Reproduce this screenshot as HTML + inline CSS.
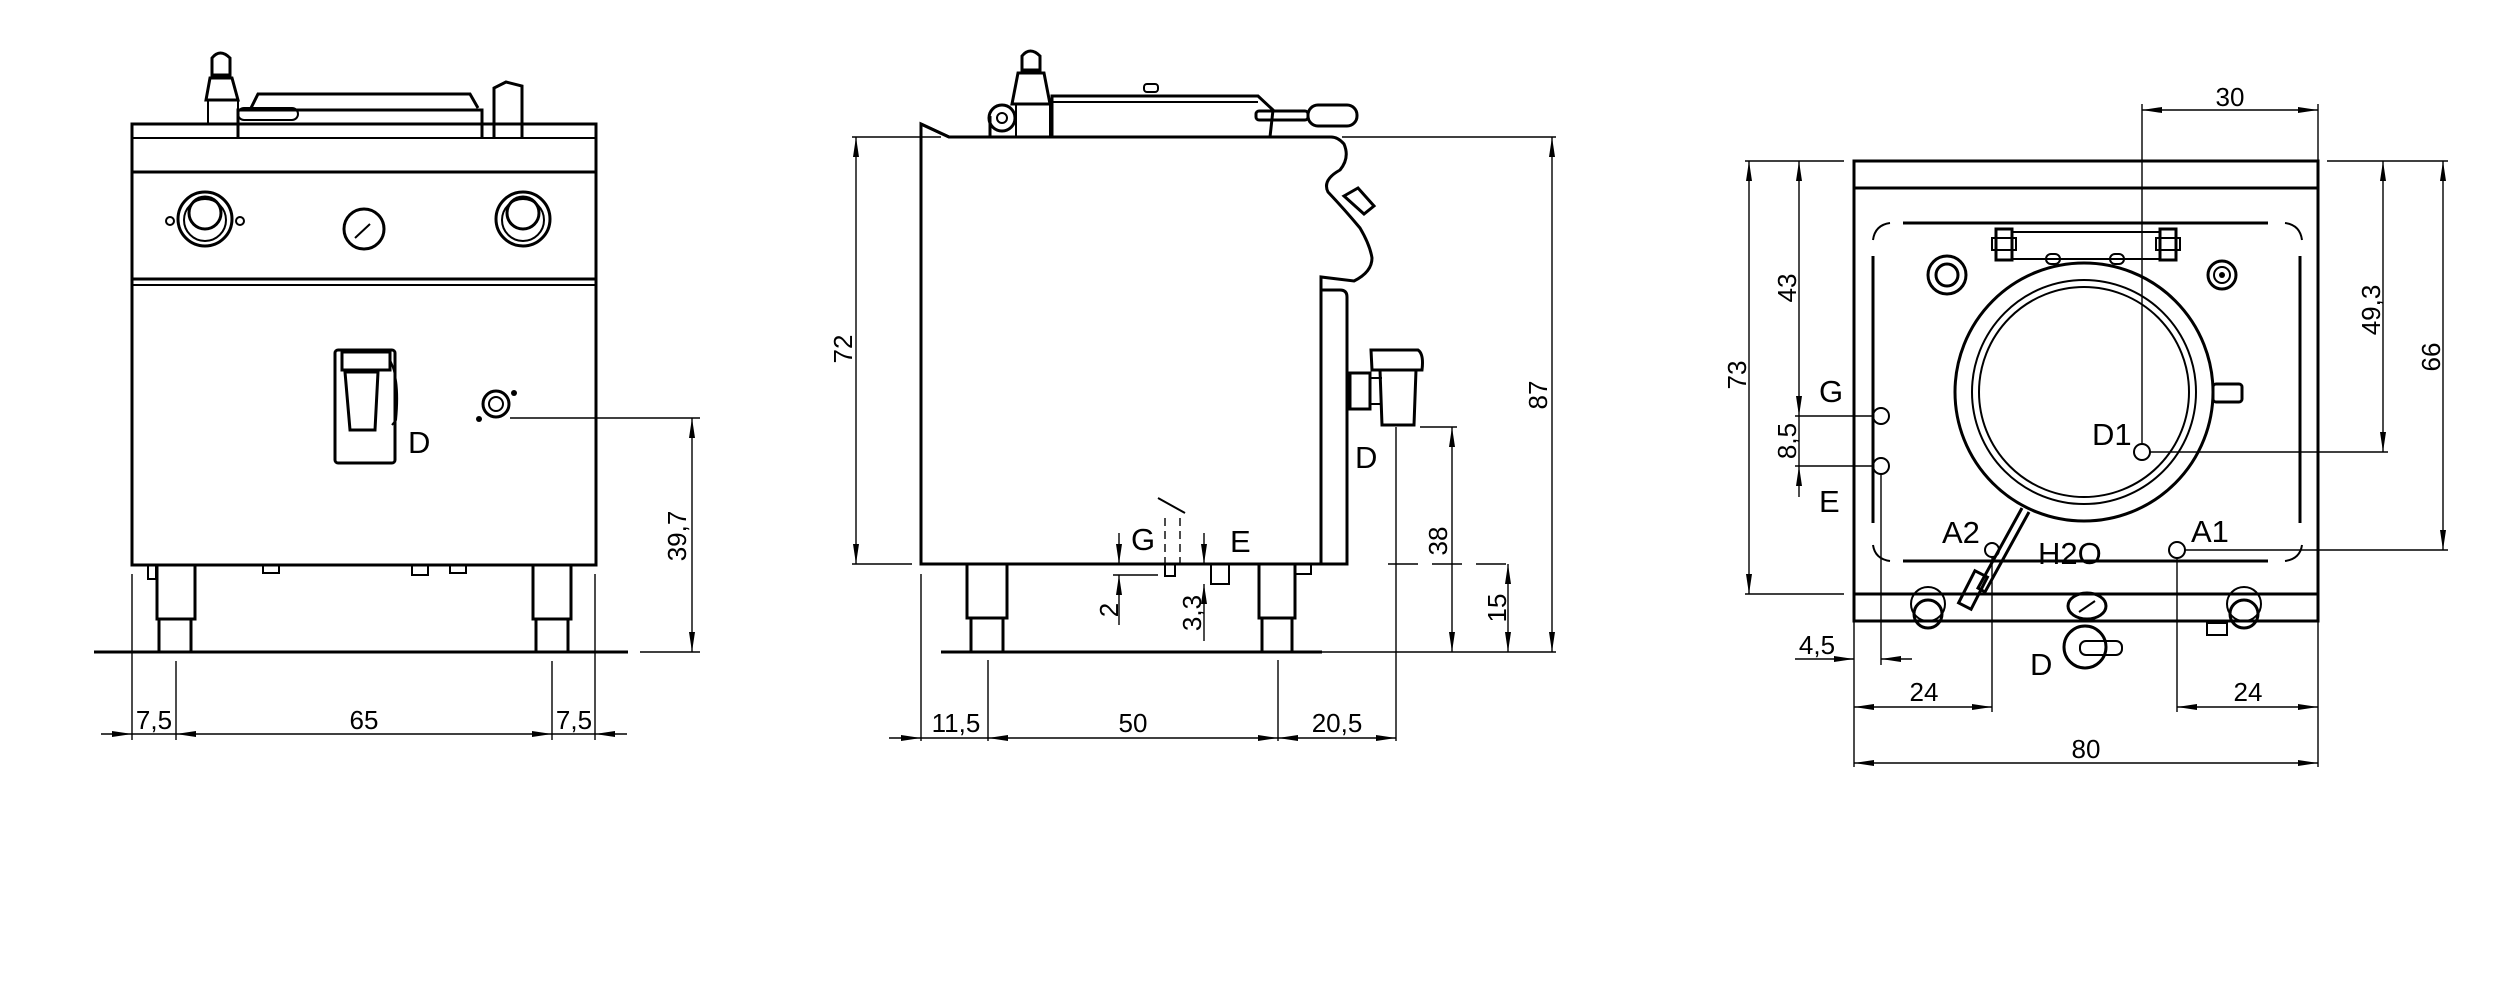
<!DOCTYPE html>
<html><head><meta charset="utf-8"><style>
html,body{margin:0;padding:0;background:#fff;}
svg{display:block;}
text{font-family:"Liberation Sans",sans-serif;fill:#000;}
.o{fill:none;stroke:#000;stroke-width:3;}
.t{fill:none;stroke:#000;stroke-width:2;}
.d{fill:none;stroke:#000;stroke-width:1.4;}
.dim{font-size:26px;}
.lab{font-size:31px;}
</style></head><body>
<svg width="2500" height="1000" viewBox="0 0 2500 1000" xmlns="http://www.w3.org/2000/svg">
<defs>
<marker id="a" viewBox="0 0 20 8" refX="20" refY="4" markerWidth="20" markerHeight="8" markerUnits="userSpaceOnUse" orient="auto-start-reverse"><path d="M0,1 L20,4 L0,7 Z" fill="#000"/></marker>
</defs>

<!-- ============ FRONT VIEW ============ -->
<g>
<rect class="o" x="132" y="124" width="464" height="441"/>
<line class="t" x1="132" y1="138" x2="596" y2="138"/>
<line class="o" x1="132" y1="172" x2="596" y2="172"/>
<line class="o" x1="132" y1="279" x2="596" y2="279"/>
<line class="t" x1="132" y1="285" x2="596" y2="285"/>
<path class="o" d="M238,138 L238,110 L482,110 L482,138"/>
<path class="o" d="M251,108 L258,94 L470,94 L478,108"/>
<rect class="t" x="238" y="108" width="60" height="12" rx="6"/>
<path class="o" d="M212,75 L212,58 Q220,48 230,58 L230,75 Z"/>
<path class="o" d="M210,78 L232,78 L238,100 L206,100 Z"/>
<rect class="t" x="208" y="100" width="30" height="24"/>
<path class="o" d="M494,138 L494,88 L506,82 L522,86 L522,138"/>
<circle class="o" cx="205" cy="219" r="27"/><circle class="o" cx="205" cy="213" r="16"/><circle class="t" cx="205" cy="220" r="21"/>
<circle class="t" cx="170" cy="221" r="4"/><circle class="t" cx="240" cy="221" r="4"/>
<circle class="o" cx="364" cy="229" r="20"/><line class="t" x1="355" y1="238" x2="370" y2="224"/>
<circle class="o" cx="523" cy="219" r="27"/><circle class="o" cx="523" cy="213" r="16"/><circle class="t" cx="523" cy="220" r="21"/>
<rect class="o" x="335" y="350" width="60" height="113" rx="3"/>
<path class="o" d="M342,352 L390,352 L390,370 L342,370 Z"/>
<path class="o" d="M345,372 L378,372 L375,430 L350,430 Z"/>
<path class="t" d="M390,360 Q400,380 396,420 L392,425"/>
<text class="lab" x="408" y="453">D</text>
<circle class="o" cx="496" cy="404" r="13"/><circle class="t" cx="496" cy="404" r="7"/>
<circle cx="514" cy="393" r="3"/><circle cx="479" cy="419" r="3"/>
<rect class="t" x="263" y="565" width="16" height="8"/><rect class="t" x="412" y="565" width="16" height="10"/><rect class="t" x="450" y="565" width="16" height="8"/>
<rect class="t" x="148" y="565" width="8" height="14"/>
<rect class="o" x="157" y="565" width="38" height="54"/><rect class="o" x="159" y="619" width="32" height="33"/>
<rect class="o" x="533" y="565" width="38" height="54"/><rect class="o" x="536" y="619" width="32" height="33"/>
<line class="o" x1="94" y1="652" x2="628" y2="652"/>
<line class="d" x1="510" y1="418" x2="700" y2="418"/>
<line class="d" x1="640" y1="652" x2="700" y2="652"/>
<line class="d" x1="692" y1="418" x2="692" y2="652" marker-start="url(#a)" marker-end="url(#a)"/>
<text class="dim" transform="translate(686,536) rotate(-90)" text-anchor="middle">39,7</text>
<line class="d" x1="132" y1="574" x2="132" y2="740"/>
<line class="d" x1="176" y1="661" x2="176" y2="740"/>
<line class="d" x1="552" y1="661" x2="552" y2="740"/>
<line class="d" x1="595" y1="574" x2="595" y2="740"/>
<line class="d" x1="101" y1="734" x2="132" y2="734" marker-end="url(#a)"/>
<line class="d" x1="132" y1="734" x2="176" y2="734"/>
<line class="d" x1="176" y1="734" x2="552" y2="734" marker-start="url(#a)" marker-end="url(#a)"/>
<line class="d" x1="552" y1="734" x2="595" y2="734"/>
<line class="d" x1="627" y1="734" x2="595" y2="734" marker-end="url(#a)"/>
<text class="dim" x="154" y="729" text-anchor="middle">7,5</text>
<text class="dim" x="364" y="729" text-anchor="middle">65</text>
<text class="dim" x="574" y="729" text-anchor="middle">7,5</text>
</g>

<!-- ============ SIDE VIEW ============ -->
<g>
<path class="o" d="M921,124 L921,564 L1321,564 L1321,277 L1354,281 Q1372,272 1372,258 Q1370,245 1360,228 Q1345,210 1328,192 Q1322,180 1340,170 Q1350,158 1344,144 Q1338,137 1331,137 L949,137 Z"/>
<line class="o" x1="921" y1="124" x2="949" y2="137"/>
<path class="o" d="M1321,290 L1340,290 Q1347,290 1347,297 L1347,564 L1321,564"/>
<path class="o" d="M1344,196 L1358,188 L1374,206 L1364,214 Z"/>
<path class="o" d="M1052,137 L1052,96 L1258,96 L1273,110 L1270,137"/>
<line class="t" x1="1052" y1="102" x2="1258" y2="102"/>
<rect class="t" x="1144" y="84" width="14" height="8" rx="3"/>
<path class="o" d="M1022,70 L1022,56 Q1030,46 1040,56 L1040,70 Z"/>
<path class="o" d="M1018,73 L1044,73 L1050,104 L1012,104 Z"/>
<rect class="t" x="1016" y="104" width="34" height="33"/>
<circle class="o" cx="1002" cy="118" r="13"/><circle class="t" cx="1002" cy="118" r="5"/>
<path class="o" d="M990,137 L990,116"/>
<rect class="o" x="1256" y="111" width="52" height="9" rx="3"/>
<rect class="o" x="1308" y="105" width="49" height="21" rx="10"/>
<path class="o" d="M1371,350 L1418,350 Q1424,354 1422,370 L1372,370 Z"/>
<path class="o" d="M1380,370 L1416,370 L1414,425 L1382,425 Z"/>
<rect class="o" x="1350" y="373" width="20" height="36"/>
<line class="t" x1="1370" y1="378" x2="1382" y2="378"/><line class="t" x1="1370" y1="404" x2="1382" y2="404"/>
<text class="lab" x="1355" y="468">D</text>
<rect class="o" x="967" y="564" width="40" height="54"/><rect class="o" x="971" y="618" width="32" height="34"/>
<rect class="o" x="1259" y="564" width="36" height="54"/><rect class="o" x="1262" y="618" width="30" height="34"/>
<rect class="t" x="1295" y="564" width="16" height="10"/>
<rect class="t" x="1165" y="564" width="10" height="12"/>
<rect class="t" x="1211" y="564" width="18" height="20"/>
<line class="o" x1="941" y1="652" x2="1322" y2="652"/>
<line class="d" x1="1165" y1="518" x2="1165" y2="564" stroke-dasharray="8,5"/>
<line class="d" x1="1180" y1="518" x2="1180" y2="564" stroke-dasharray="8,5"/>
<line class="t" x1="1158" y1="498" x2="1185" y2="513"/>
<text class="lab" x="1131" y="550">G</text>
<text class="lab" x="1230" y="552">E</text>
<line class="d" x1="1113" y1="575" x2="1158" y2="575"/>
<line class="d" x1="1119" y1="533" x2="1119" y2="564" marker-end="url(#a)"/>
<line class="d" x1="1119" y1="625" x2="1119" y2="575" marker-end="url(#a)"/>
<text class="dim" transform="translate(1118,610) rotate(-90)" text-anchor="middle">2</text>
<line class="d" x1="1204" y1="533" x2="1204" y2="564" marker-end="url(#a)"/>
<line class="d" x1="1204" y1="641" x2="1204" y2="584" marker-end="url(#a)"/>
<text class="dim" transform="translate(1201,613) rotate(-90)" text-anchor="middle">3,3</text>
<line class="d" x1="852" y1="137" x2="941" y2="137"/>
<line class="d" x1="852" y1="564" x2="912" y2="564"/>
<line class="d" x1="856" y1="137" x2="856" y2="564" marker-start="url(#a)" marker-end="url(#a)"/>
<text class="dim" transform="translate(852,349) rotate(-90)" text-anchor="middle">72</text>
<line class="d" x1="1342" y1="137" x2="1556" y2="137"/>
<line class="d" x1="1322" y1="652" x2="1556" y2="652"/>
<line class="d" x1="1552" y1="137" x2="1552" y2="652" marker-start="url(#a)" marker-end="url(#a)"/>
<text class="dim" transform="translate(1547,395) rotate(-90)" text-anchor="middle">87</text>
<line class="d" x1="1420" y1="427" x2="1457" y2="427"/>
<line class="d" x1="1452" y1="427" x2="1452" y2="652" marker-start="url(#a)" marker-end="url(#a)"/>
<text class="dim" transform="translate(1447,541) rotate(-90)" text-anchor="middle">38</text>
<line class="d" x1="1388" y1="564" x2="1512" y2="564" stroke-dasharray="30,14"/>
<line class="d" x1="1508" y1="564" x2="1508" y2="652" marker-start="url(#a)" marker-end="url(#a)"/>
<text class="dim" transform="translate(1506,608) rotate(-90)" text-anchor="middle">15</text>
<line class="d" x1="921" y1="574" x2="921" y2="741"/>
<line class="d" x1="988" y1="660" x2="988" y2="741"/>
<line class="d" x1="1278" y1="660" x2="1278" y2="741"/>
<line class="d" x1="1396" y1="427" x2="1396" y2="741"/>
<line class="d" x1="889" y1="738" x2="921" y2="738" marker-end="url(#a)"/>
<line class="d" x1="921" y1="738" x2="988" y2="738"/>
<line class="d" x1="988" y1="738" x2="1278" y2="738" marker-start="url(#a)" marker-end="url(#a)"/>
<line class="d" x1="1278" y1="738" x2="1396" y2="738" marker-start="url(#a)" marker-end="url(#a)"/>
<text class="dim" x="956" y="732" text-anchor="middle">11,5</text>
<text class="dim" x="1133" y="732" text-anchor="middle">50</text>
<text class="dim" x="1337" y="732" text-anchor="middle">20,5</text>
</g>

<!-- ============ TOP VIEW ============ -->
<g>
<rect class="o" x="1854" y="161" width="464" height="460"/>
<line class="o" x1="1854" y1="188" x2="2318" y2="188"/>
<line class="o" x1="1854" y1="594" x2="2318" y2="594"/>
<line class="o" x1="1903" y1="223" x2="2268" y2="223"/>
<line class="o" x1="1903" y1="561" x2="2268" y2="561"/>
<line class="o" x1="1873" y1="256" x2="1873" y2="523"/>
<line class="o" x1="2300" y1="256" x2="2300" y2="523"/>
<path class="t" d="M1873,240 Q1875,225 1890,223"/><path class="t" d="M2285,223 Q2300,225 2302,240"/>
<path class="t" d="M1873,545 Q1875,559 1890,561"/><path class="t" d="M2285,561 Q2300,559 2302,545"/>
<rect class="o" x="1996" y="229" width="16" height="31"/><rect class="o" x="2160" y="229" width="16" height="31"/>
<rect class="t" x="1992" y="238" width="24" height="12"/><rect class="t" x="2156" y="238" width="24" height="12"/>
<line class="t" x1="2012" y1="232" x2="2160" y2="232"/><line class="t" x1="2012" y1="259" x2="2160" y2="259"/>
<rect class="t" x="2046" y="254" width="14" height="10" rx="5"/><rect class="t" x="2110" y="254" width="14" height="10" rx="5"/>
<circle class="o" cx="1947" cy="275" r="19"/><circle class="o" cx="1947" cy="275" r="11"/>
<circle class="o" cx="2222" cy="275" r="14"/><circle class="t" cx="2222" cy="275" r="8"/><circle cx="2222" cy="275" r="3"/>
<circle class="o" cx="2084" cy="392" r="129" stroke-width="4"/>
<circle class="t" cx="2084" cy="392" r="112"/>
<circle class="t" cx="2084" cy="392" r="105"/>
<rect class="o" x="2213" y="384" width="29" height="18" rx="3"/>
<path class="o" d="M2022,508 L1978,588 L1985,592 L2029,512"/>
<rect class="o" x="1966" y="572" width="14" height="36" transform="rotate(27 1973 590)"/>
<circle class="o" cx="1928" cy="614" r="14"/><circle class="t" cx="1928" cy="604" r="17"/>
<circle class="o" cx="2244" cy="614" r="14"/><circle class="t" cx="2244" cy="604" r="17"/>
<ellipse class="o" cx="2087" cy="606" rx="19" ry="13"/><line class="t" x1="2079" y1="612" x2="2095" y2="601"/>
<circle class="o" cx="2085" cy="647" r="21"/><rect class="t" x="2080" y="641" width="42" height="14" rx="6"/>
<rect class="t" x="2207" y="623" width="20" height="12"/>
<circle class="t" cx="1881" cy="416" r="8"/><circle class="t" cx="1881" cy="466" r="8"/>
<circle class="t" cx="2142" cy="452" r="8"/><circle class="t" cx="1992" cy="550" r="7"/><circle class="t" cx="2177" cy="550" r="8"/>
<text class="lab" x="1819" y="402">G</text>
<text class="lab" x="1819" y="512">E</text>
<text class="lab" x="2092" y="445">D1</text>
<text class="lab" x="1942" y="543">A2</text>
<text class="lab" x="2038" y="564">H2O</text>
<text class="lab" x="2191" y="542">A1</text>
<text class="lab" x="2030" y="675">D</text>
<!-- dims -->
<line class="d" x1="1745" y1="161" x2="1844" y2="161"/>
<line class="d" x1="1745" y1="594" x2="1844" y2="594"/>
<line class="d" x1="1749" y1="161" x2="1749" y2="594" marker-start="url(#a)" marker-end="url(#a)"/>
<text class="dim" transform="translate(1746,375) rotate(-90)" text-anchor="middle">73</text>
<line class="d" x1="1799" y1="161" x2="1799" y2="416" marker-start="url(#a)" marker-end="url(#a)"/>
<text class="dim" transform="translate(1796,288) rotate(-90)" text-anchor="middle">43</text>
<line class="d" x1="1795" y1="416" x2="1874" y2="416"/>
<line class="d" x1="1795" y1="466" x2="1874" y2="466"/>
<line class="d" x1="1799" y1="416" x2="1799" y2="466"/>
<line class="d" x1="1799" y1="497" x2="1799" y2="466" marker-end="url(#a)"/>
<text class="dim" transform="translate(1796,441) rotate(-90)" text-anchor="middle">8,5</text>
<line class="d" x1="2150" y1="452" x2="2388" y2="452"/>
<line class="d" x1="2383" y1="161" x2="2383" y2="452" marker-start="url(#a)" marker-end="url(#a)"/>
<text class="dim" transform="translate(2380,310) rotate(-90)" text-anchor="middle">49,3</text>
<line class="d" x1="2327" y1="161" x2="2448" y2="161"/>
<line class="d" x1="2185" y1="550" x2="2448" y2="550"/>
<line class="d" x1="2443" y1="161" x2="2443" y2="550" marker-start="url(#a)" marker-end="url(#a)"/>
<text class="dim" transform="translate(2440,357) rotate(-90)" text-anchor="middle">66</text>
<line class="d" x1="2142" y1="104" x2="2142" y2="444"/>
<line class="d" x1="2318" y1="104" x2="2318" y2="161"/>
<line class="d" x1="2142" y1="110" x2="2318" y2="110" marker-start="url(#a)" marker-end="url(#a)"/>
<text class="dim" x="2230" y="106" text-anchor="middle">30</text>
<line class="d" x1="1881" y1="474" x2="1881" y2="665"/>
<line class="d" x1="1795" y1="659" x2="1854" y2="659" marker-end="url(#a)"/>
<line class="d" x1="1912" y1="659" x2="1881" y2="659" marker-end="url(#a)"/>
<text class="dim" x="1817" y="654" text-anchor="middle">4,5</text>
<line class="d" x1="1854" y1="621" x2="1854" y2="767"/>
<line class="d" x1="2318" y1="621" x2="2318" y2="767"/>
<line class="d" x1="1992" y1="557" x2="1992" y2="712"/>
<line class="d" x1="2177" y1="558" x2="2177" y2="712"/>
<line class="d" x1="1854" y1="707" x2="1992" y2="707" marker-start="url(#a)" marker-end="url(#a)"/>
<text class="dim" x="1924" y="701" text-anchor="middle">24</text>
<line class="d" x1="2177" y1="707" x2="2318" y2="707" marker-start="url(#a)" marker-end="url(#a)"/>
<text class="dim" x="2248" y="701" text-anchor="middle">24</text>
<line class="d" x1="1854" y1="763" x2="2318" y2="763" marker-start="url(#a)" marker-end="url(#a)"/>
<text class="dim" x="2086" y="758" text-anchor="middle">80</text>
</g>
</svg>
</body></html>
